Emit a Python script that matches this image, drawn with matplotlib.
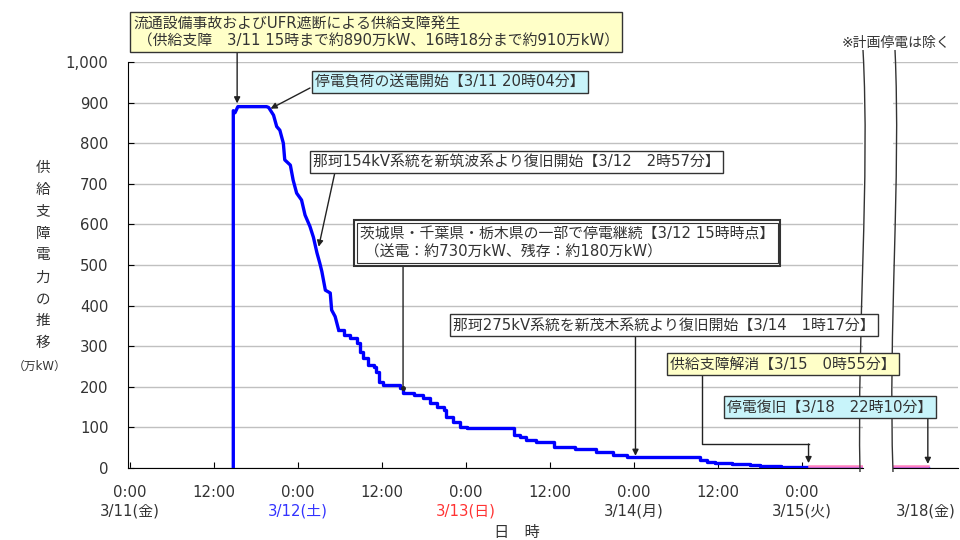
import numpy as np
import matplotlib.pyplot as plt
from matplotlib.lines import Line2D
from matplotlib.path import Path
from matplotlib.patches import PathPatch

plt.rcParams['font.family'] = ['DejaVu Sans', 'Noto Sans CJK JP']

# hours since 3/11 0:00, supply disruption in 万kW
# steep part (drawn as a plain line)
hours = [14.75, 14.75, 15.0, 15.4, 19.5, 19.8, 20.5, 20.95, 21.4, 21.9, 22.1, 22.9,
         23.3, 23.8, 24.5, 25.0, 25.7, 26.2, 26.7, 27.1, 27.4, 27.9, 28.6, 28.8,
         29.3, 29.8]
values = [0, 880, 875, 890, 890, 888, 869, 841, 832, 800, 759, 746,
          709, 677, 660, 623, 595, 568, 530, 505, 484, 438, 431, 389,
          373, 340]
# later part (drawn as steps)
step_hours = [29.8, 30.5, 31.4, 32.4, 32.9, 33.3, 34.0, 34.8, 35.2, 35.5, 36.2,
              38.6, 39.0, 40.5, 41.9, 42.9, 43.8, 44.8, 45.2, 46.2, 47.1, 48.1,
              54.9, 55.7, 56.5, 58.0, 60.6, 63.5, 66.5, 69.0, 71.0, 74.0, 81.4,
              82.4, 83.5, 86.0, 88.6, 90.0, 93.0, 96.9, 190.17]
step_values = [340, 328, 319, 307, 286, 270, 254, 249, 237, 213, 204,
               196, 184, 180, 172, 159, 151, 143, 126, 114, 102, 98,
               81, 77, 69, 65, 52, 48, 40, 32, 28, 26, 20,
               16, 12, 9, 7, 5, 3, 0, 0]
# planned outage part (pink)
pink_hours = [96.92, 190.17]
pink_values = [4, 4]

tick_hours = [0, 12, 24, 36, 48, 60, 72, 84, 96]
tick_labels = ['0:00', '12:00'] * 4 + ['0:00']
day_hours = [0, 24, 48, 72, 96]
day_labels = ['3/11(金)', '3/12(土)', '3/13(日)', '3/14(月)', '3/15(火)']
day_colors = ['#333333', '#3333ff', '#ff3333', '#333333', '#333333']
yticks = list(range(0, 1001, 100))

W, H = 960, 540
FS = 10.7


def fx(x):
    return x / W


def fy(y):
    return 1 - y / H


fig = plt.figure(figsize=(9.6, 5.4), dpi=100)
ax = fig.add_axes([fx(128), fy(468), fx(863 - 128), 406 / H])
ax2 = fig.add_axes([fx(893), fy(468), fx(958 - 893), 406 / H])

for a in (ax, ax2):
    a.plot(hours, values, color='#0000ff', lw=2.4, zorder=3)
    a.plot(step_hours, step_values, color='#0000ff', lw=2.4, drawstyle='steps-post',
           zorder=3)
    a.plot(pink_hours, pink_values, color='#ff80c0', lw=1.8, zorder=4)
    a.set_ylim(0, 1000)
    a.set_yticks(yticks)
    a.grid(axis='y', color='#c0c0c0', lw=1)
    a.set_axisbelow(True)
    a.spines['top'].set_visible(False)
    a.spines['right'].set_visible(False)

ax.set_xlim(-0.29, 104.7)
ax.set_xticks(tick_hours)
ax.set_xticklabels(tick_labels, fontsize=FS, color='#333333')
ax.set_yticklabels([f'{v:,}' for v in yticks], fontsize=FS, color='#333333')
ax.tick_params(direction='in', length=4, pad=12)
ax.tick_params(axis='y', pad=14)
for h, lab, c in zip(day_hours, day_labels, day_colors):
    ax.text(h, -0.105, lab, transform=ax.get_xaxis_transform(), ha='center',
            va='center', fontsize=FS, color=c)

ax2.set_xlim(185.17, 194.5)
ax2.set_xticks([])
ax2.tick_params(axis='y', left=False, labelleft=False)
ax2.spines['left'].set_visible(False)
ax2.text(189.8, -0.105, '3/18(金)', transform=ax2.get_xaxis_transform(),
         ha='center', va='center', fontsize=FS, color='#333333')

# axis titles
fig.text(fx(43), fy(255), '\n'.join('供給支障電力の推移'), ha='center', va='center',
         fontsize=10.5, linespacing=1.58, color='#333333')
fig.text(fx(40), fy(366), '（万kW）', ha='center', va='center', fontsize=8.5,
         color='#333333')
fig.text(fx(517), fy(533), '日　時', ha='center', va='center', fontsize=11,
         color='#333333')
fig.text(fx(896), fy(43), '※計画停電は除く', ha='center', va='center', fontsize=10,
         color='#333333')

# axis break curves
for x0, x1, x2, x3 in [(863, 870, 857, 860), (895, 901, 888, 893)]:
    verts = [(fx(x0), fy(50)), (fx(x1), fy(180)), (fx(x2), fy(330)), (fx(x3), fy(472))]
    p = Path(verts, [Path.MOVETO, Path.CURVE4, Path.CURVE4, Path.CURVE4])
    fig.add_artist(PathPatch(p, transform=fig.transFigure, fill=False,
                             ec='#333333', lw=1))


def box(x, y, s, fc, lw=1.0):
    return fig.text(fx(x), fy(y), s, ha='left', va='center', fontsize=FS,
                    color='#333333', linespacing=1.25, zorder=10,
                    bbox=dict(boxstyle='square,pad=0.22', fc=fc, ec='#333333', lw=lw))


box(133, 32, '流通設備事故およびUFR遮断による供給支障発生\n'
    ' （供給支障　3/11 15時まで約890万kW、16時18分まで約910万kW）', '#ffffc8')
box(315, 82, '停電負荷の送電開始【3/11 20時04分】', '#c8f4fa')
box(313, 162, '那珂154kV系統を新筑波系より復旧開始【3/12　2時57分】', 'white')
s4 = '茨城県・千葉県・栃木県の一部で停電継続【3/12 15時時点】\n' \
     ' （送電：約730万kW、残存：約180万kW）'
fig.text(fx(360), fy(243), s4, ha='left', va='center', fontsize=FS, color='#333333',
         linespacing=1.25, zorder=9,
         bbox=dict(boxstyle='square,pad=0.42', fc='white', ec='#333333', lw=1.5))
box(360, 243, s4, 'white', lw=0.8)
box(453, 325, '那珂275kV系統を新茂木系統より復旧開始【3/14　1時17分】', 'white')
box(670, 364, '供給支障解消【3/15　0時55分】', '#ffffc8')
box(727, 407, '停電復旧【3/18　22時10分】', '#c8f4fa')

arrow = dict(arrowstyle='-|>', color='#222222', lw=1, mutation_scale=9,
             shrinkA=0, shrinkB=0)


def point_to(a, xy, xytext, coords, props=arrow):
    a.annotate('', xy=xy, xytext=xytext, textcoords=coords,
               arrowprops=props, annotation_clip=False)


point_to(ax, (15.3, 898), (15.3, H - 52), ('data', 'figure pixels'))
point_to(ax, (20.07, 885), (310, H - 88), 'figure pixels')
point_to(ax, (26.95, 545), (335, H - 172), 'figure pixels')
point_to(ax, (39.0, 197), (39.0, H - 266), ('data', 'figure pixels'),
         dict(arrowstyle='-', color='#222222', lw=1, shrinkA=0, shrinkB=0))
ax.plot([39.0], [197], 'o', color='#222222', ms=2.5, zorder=5)
point_to(ax, (72.2, 30), (72.2, H - 336), ('data', 'figure pixels'))
# elbow line for 3/15 0:55
x_ev = ax.transData.transform((96.92, 0))[0] / fig.dpi / 9.6
fig.add_artist(Line2D([fx(702), fx(702), x_ev], [fy(375), fy(444), fy(444)],
                      transform=fig.transFigure, color='#222222', lw=1))
point_to(ax, (96.92, 12), (96.92, H - 444), ('data', 'figure pixels'))
point_to(ax2, (190.17, 10), (190.17, H - 418), ('data', 'figure pixels'))

fig.savefig('out.png', dpi=100)
